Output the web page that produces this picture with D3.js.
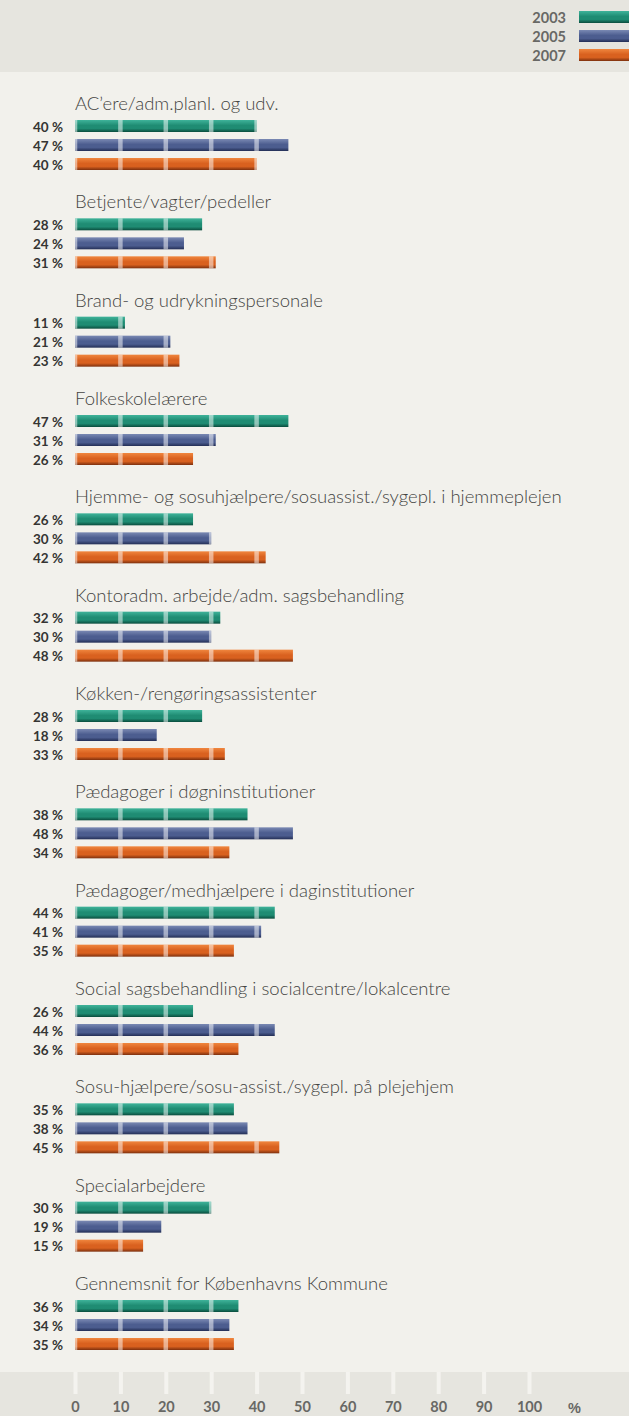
<!DOCTYPE html>
<html>
<head>
<meta charset="utf-8">
<script src="https://cdn.jsdelivr.net/npm/d3@7"></script>
<style>
  body { margin: 0; background: #f2f1ec; }
  svg { display: block; }
</style>
</head>
<body>
<div id="chart"></div>
<script>
// data
const categories = [
    "AC\u2019ere/adm.planl. og udv.",
    "Betjente/vagter/pedeller",
    "Brand- og udrykningspersonale",
    "Folkeskolelærere",
    "Hjemme- og sosuhjælpere/sosuassist./sygepl. i hjemmeplejen",
    "Kontoradm. arbejde/adm. sagsbehandling",
    "Køkken-/rengøringsassistenter",
    "Pædagoger i døgninstitutioner",
    "Pædagoger/medhjælpere i daginstitutioner",
    "Social sagsbehandling i socialcentre/lokalcentre",
    "Sosu-hjælpere/sosu-assist./sygepl. på plejehjem",
    "Specialarbejdere",
    "Gennemsnit for Københavns Kommune"
]
const years = ["2003", "2005", "2007"]
const values2003 = [40, 28, 11, 47, 26, 32, 28, 38, 44, 26, 35, 30, 36]
const values2005 = [47, 24, 21, 31, 30, 30, 18, 48, 41, 44, 38, 19, 34]
const values2007 = [40, 31, 23, 26, 42, 48, 33, 34, 35, 36, 45, 15, 35]
const axisTicks = [0, 10, 20, 30, 40, 50, 60, 70, 80, 90, 100]

const width = 629, height = 1416
const barHeight = 12
const fontFamily = "'Gill Sans', 'Lato', 'Open Sans', sans-serif"
const colors = {
    "2003": ["#3fb39a", "#1f8c73", "#0a4c3d"],
    "2005": ["#7a89b3", "#4c5d8f", "#232e55"],
    "2007": ["#f0863e", "#d9611f", "#7d300e"]
}

var series = years.map((y, i) => ({ year: y, values: [values2003, values2005, values2007][i] }))

var svg = d3.select("#chart").append("svg")
    .attr("width", width)
    .attr("height", height)
    .style("font-family", fontFamily)

svg.append("rect").attr("width", width).attr("height", height).attr("fill", "#f2f1ec")
svg.append("rect").attr("width", width).attr("height", 72).attr("fill", "#e6e5df")
svg.append("rect").attr("y", 1372).attr("width", width).attr("height", height - 1372).attr("fill", "#e6e5df")

var x = d3.scaleLinear().domain([0, 100]).range([75, 529])
var groupY = d3.scalePoint().domain(categories).range([110, 1290])  // title baselines
var barY = d3.scalePoint().domain(years).range([10, 48])            // bar tops below title

// vertical gradients for the bars
var defs = svg.append("defs")
years.forEach(y => {
    var g = defs.append("linearGradient").attr("id", "grad_" + y)
        .attr("x1", 0).attr("x2", 0).attr("y1", 0).attr("y2", 1)
    g.append("stop").attr("offset", "0%").attr("stop-color", colors[y][0])
    g.append("stop").attr("offset", "45%").attr("stop-color", colors[y][1])
    g.append("stop").attr("offset", "70%").attr("stop-color", colors[y][1])
    g.append("stop").attr("offset", "100%").attr("stop-color", colors[y][2])
})

// legend
var legend = svg.append("g").attr("class", "legend")
years.forEach((y, i) => {
    legend.append("rect")
        .attr("x", 579).attr("y", 11 + i * 19)
        .attr("width", 50).attr("height", barHeight)
        .attr("fill", "url(#grad_" + y + ")")
    legend.append("text")
        .attr("x", 566).attr("y", 22.5 + i * 19)
        .attr("text-anchor", "end")
        .attr("font-size", 14.5).attr("font-weight", "bold")
        .attr("fill", "#686865")
        .text(y)
})

// stripes sit at every tick but stay inside the bar
function stripes(v) {
    var x0 = x(0), x1 = x(v)
    return axisTicks.map(t => {
        var a = Math.max(x0, x(t) - 2.25), b = Math.min(x1, x(t) + 2.25)
        return { a: a, w: b - a }
    }).filter(s => s.w > 0)
}

var groups = svg.selectAll("g.group")
    .data(categories)
    .join("g")
    .attr("class", "group")
    .attr("transform", d => "translate(0," + groupY(d) + ")")

groups.append("text")
    .attr("x", x(0))
    .attr("y", 0)
    .attr("font-family", "'Gill Sans Light', 'Lato Light', 'Lato', 'Open Sans', sans-serif")
    .attr("font-size", 18.5)
    .attr("font-weight", 300)
    .attr("fill", "#444442")
    .text(d => d)

groups.each(function (cat, ci) {
    var g = d3.select(this)
    series.forEach(s => {
        var v = s.values[ci]
        var top = barY(s.year)
        g.append("rect")
            .attr("x", x(0)).attr("y", top)
            .attr("width", x(v) - x(0)).attr("height", barHeight)
            .attr("fill", "url(#grad_" + s.year + ")")
        stripes(v).forEach(st => {
            g.append("rect")
                .attr("x", st.a).attr("y", top)
                .attr("width", st.w).attr("height", barHeight)
                .attr("fill", "#ffffff").attr("opacity", 0.5)
        })
        g.append("text")
            .attr("x", 63).attr("y", top + 11.5)
            .attr("text-anchor", "end")
            .attr("font-size", 13.5).attr("font-weight", "bold")
            .attr("fill", "#353533")
            .text(v + " %")
    })
})

// bottom axis
var axis = svg.append("g")
    .attr("transform", "translate(0,1372)")
    .call(d3.axisBottom(x).tickValues(axisTicks).tickSize(22).tickPadding(8).tickSizeOuter(0))
axis.select(".domain").remove()
axis.selectAll(".tick line").attr("stroke", "#f4f3ef").attr("stroke-width", 4)
axis.selectAll(".tick text")
    .attr("font-family", fontFamily)
    .attr("font-size", 14.5).attr("font-weight", "bold")
    .attr("fill", "#686865")
axis.append("text")
    .attr("x", x(110)).attr("y", 40.5)
    .attr("text-anchor", "middle")
    .attr("font-size", 14.5).attr("font-weight", "bold")
    .attr("fill", "#686865")
    .text("%")
</script>
</body>
</html>
